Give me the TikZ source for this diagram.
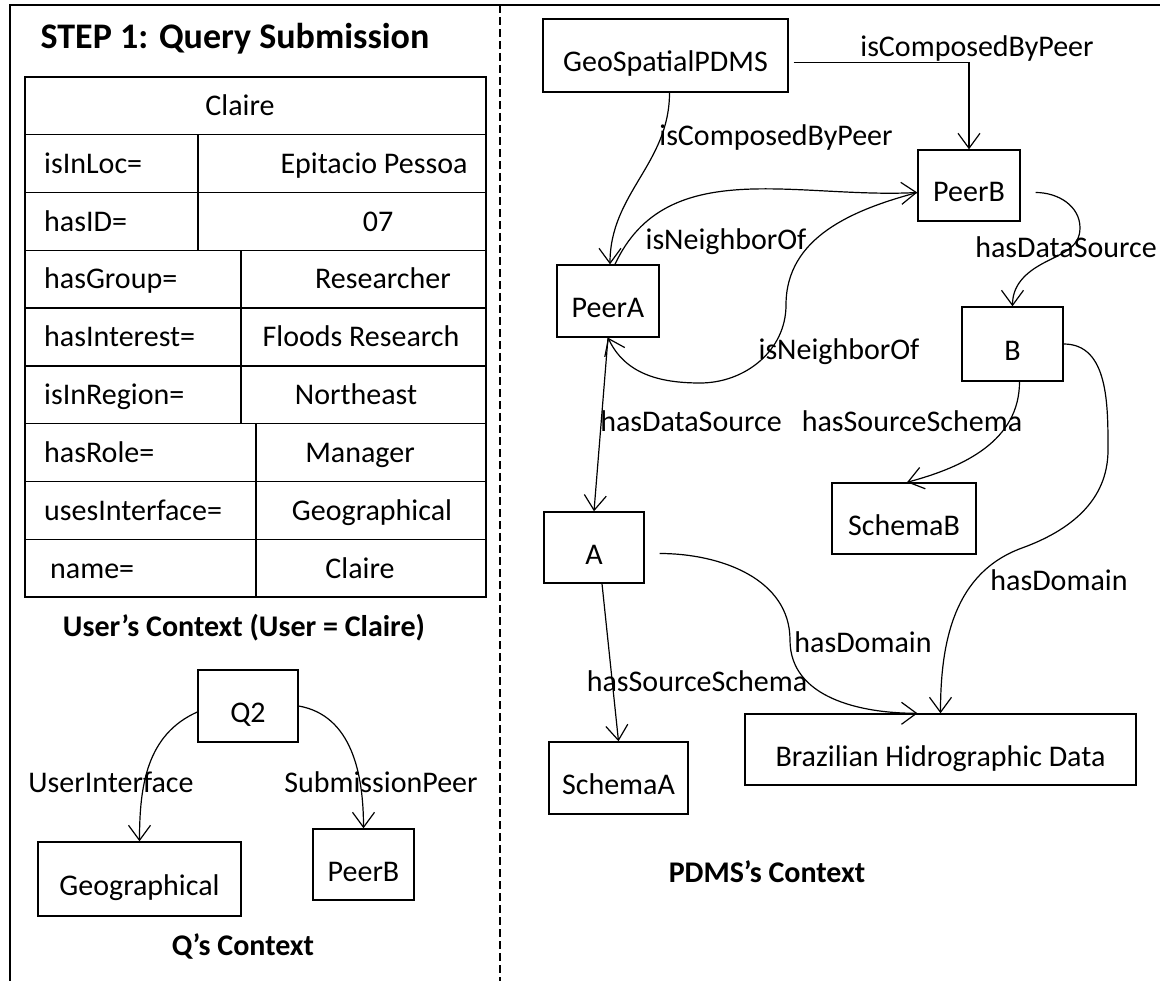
\documentclass[tikz,border=0pt]{standalone}
\usepackage{fontspec}
\setmainfont{Carlito}
\usetikzlibrary{arrows.meta,calc}

\begin{document}
\begin{tikzpicture}[x=1pt,y=-1pt,
    font=\fontsize{30}{36}\selectfont,
    box/.style 2 args={draw, line width=1.4pt, minimum width=#1, minimum height=#2,
        text height=33pt, text depth=0pt},
    rel/.style={line width=1.2pt, -{Straight Barb[length=15pt,width=22pt,line width=1.2pt]}},
    lbl/.style={inner sep=0pt, anchor=base, yshift=-9.7pt},
    capt/.style={inner sep=0pt, anchor=base, yshift=-9.7pt, font=\fontsize{30}{36}\selectfont\bfseries}]
    \useasboundingbox (0,0) rectangle (1160,981);

    % frame
    \draw [line width=2pt] (10,981) -- (10,5) -- (1160,5);
    \draw [line width=1.3pt, dash pattern=on 8pt off 4pt] (500,5) -- (500,981);

    % user's context
    \node[capt, yshift=-1.9pt, font=\fontsize{36}{42}\selectfont\bfseries] (title) at (235,37) {STEP 1: Query Submission};
    \draw [line width=2pt] (25,77) rectangle (486,597.2);
    \foreach \r in {1,...,8}
        \draw [line width=1.4pt] (25,{77+57.8*\r}) -- (486,{77+57.8*\r});
    \draw [line width=1.4pt] (198,134.8) -- (198,250.4);
    \draw [line width=1.4pt] (241,250.4) -- (241,423.8);
    \draw [line width=1.4pt] (256,423.8) -- (256,597.2);
    \node[lbl] (user) at (240,106) {Claire};
    \foreach \key/\kx/\val/\vx [count=\r] in {isInLoc=/44/Epitacio Pessoa/374, hasID=/44/07/378,
            hasGroup=/44/Researcher/383, hasInterest=/44/Floods Research/361,
            isInRegion=/44/Northeast/356, hasRole=/44/Manager/360,
            usesInterface=/44/Geographical/372, name=/50/Claire/360} {
        \node[lbl, anchor=base west] (key\r) at (\kx,{77+57.8*(\r+0.5)}) {\key};
        \node[lbl] (val\r) at (\vx,{77+57.8*(\r+0.5)}) {\val};
    }
    \node[capt] (usercapt) at (244,627) {User’s Context (User = Claire)};

    % Q's context
    \node[box={100pt}{72pt}] (Q2) at (248,706) {Q2};
    \node[box={203pt}{74pt}] (geo) at (139.5,879) {Geographical};
    \node[box={101pt}{71pt}] (peerBq) at (363.5,864.5) {PeerB};
    \draw [rel] ($(Q2.west)+(0,6)$) to[out=204,in=90] (geo.north);
    \draw [rel] (Q2.east) to[out=-10,in=90] (peerBq.north);
    \node[lbl] (ui) at (111,783) {UserInterface};
    \node[lbl] (sp) at (381,783) {SubmissionPeer};
    \node[capt] (qcapt) at (243,946) {Q’s Context};

    % PDMS's context
    \node[box={245pt}{73pt}] (gpdms) at (665.5,55.5) {GeoSpatialPDMS};
    \node[box={102pt}{71pt}] (peerB) at (969,185.5) {PeerB};
    \node[box={102pt}{72pt}] (peerA) at (608,301) {PeerA};
    \node[box={101pt}{74pt}] (dsB) at (1012.5,344) {B};
    \node[box={144pt}{71pt}] (schemaB) at (904,518.5) {SchemaB};
    \node[box={100pt}{71pt}] (dsA) at (594,547.5) {A};
    \node[box={139pt}{72pt}] (schemaA) at (618.5,778) {SchemaA};
    \node[box={391pt}{71pt}] (brazil) at (940.5,749.5) {Brazilian Hidrographic Data};

    \draw [rel] ($(gpdms.east)+(5,7)$) -| (peerB.north);
    \draw [rel] ($(gpdms.south)+(4,0)$) to[out=-90,in=90] ($(peerA.north)+(2,0)$);
    \draw [rel] ($(peerA.north)+(7,0)$) to[out=65,in=183] ($(peerB.west)+(0,7)$);
    \draw [rel] ($(peerB.west)+(0,7)$) to[out=195,in=90] (786,305)
        to[out=-90,in=0] (700,383) to[out=180,in=-65] (peerA.south);
    \draw [rel] (peerA.south) -- (dsA.north);
    \draw [rel] ($(dsA.south)+(8,0)$) -- (schemaA.north);
    \draw [rel] ($(dsA.east)+(15,6)$) to[out=0,in=90] (790,640)
        to[out=-90,in=180] ($(brazil.north)+(-23,0)$);
    \draw [rel] ($(peerB.east)+(15,7)$) to[out=0,in=90] (1080,228)
        to[out=-90,in=30] (1040,265) to[out=210,in=90] (dsB.north);
    \draw [rel] ($(dsB.south)+(7,0)$) to[out=-90,in=15] ($(schemaB.north)+(3,0)$);
    \draw [rel] (dsB.east) to[out=0,in=90] (1108,450)
        to[out=-90,in=20] (1022,548) to[out=200,in=90] (brazil.north);

    \node[lbl] (comp1) at (977,47) {isComposedByPeer};
    \node[lbl] (comp2) at (776,136) {isComposedByPeer};
    \node[lbl] (nb1) at (726,240) {isNeighborOf};
    \node[lbl] (nb2) at (839,350) {isNeighborOf};
    \node[lbl] (hdsA) at (691,422) {hasDataSource};
    \node[lbl, anchor=base east] (hdsB) at (1157,248) {hasDataSource};
    \node[lbl] (hssB) at (912,422) {hasSourceSchema};
    \node[lbl] (hssA) at (697,682) {hasSourceSchema};
    \node[lbl] (hdA) at (863,643) {hasDomain};
    \node[lbl] (hdB) at (1059,581) {hasDomain};
    \node[capt] (pdmscapt) at (767,873) {PDMS’s Context};
\end{tikzpicture}
\end{document}
